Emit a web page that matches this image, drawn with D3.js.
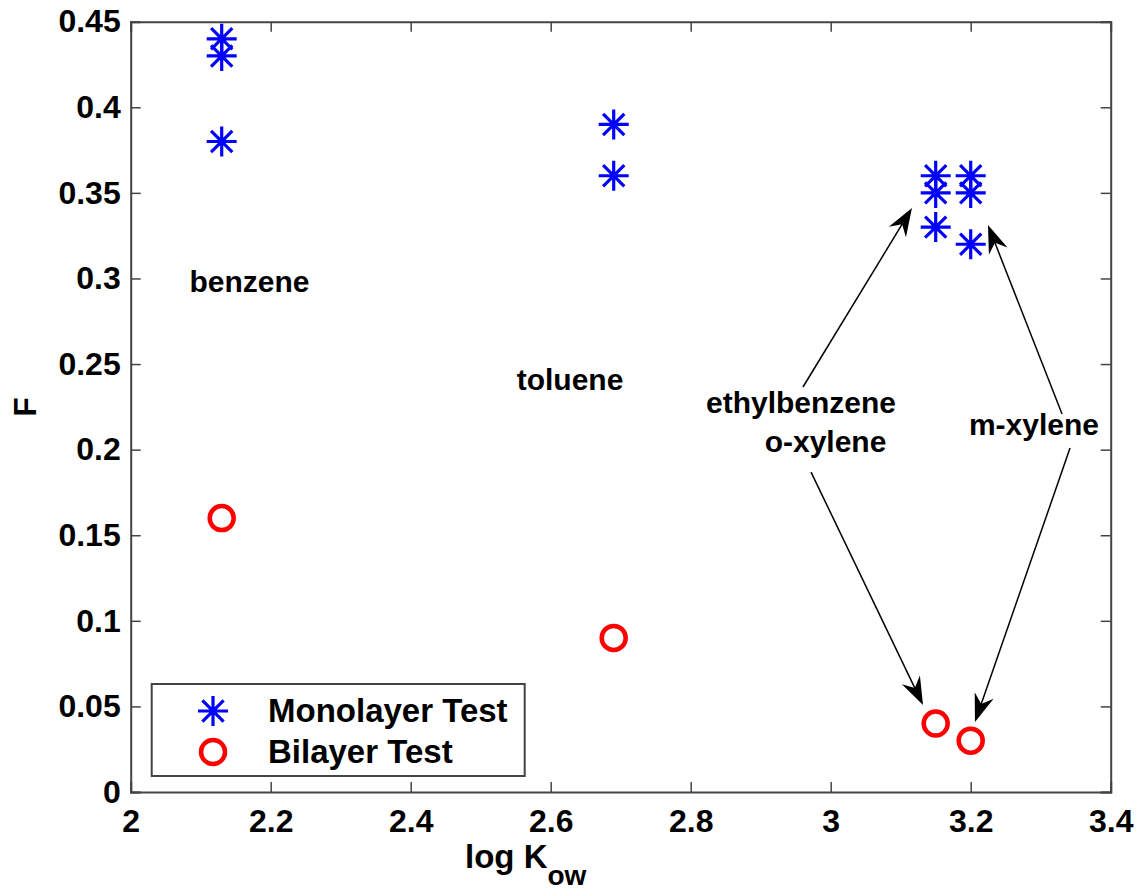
<!DOCTYPE html>
<html>
<head>
<meta charset="utf-8">
<script src="https://cdn.jsdelivr.net/npm/d3@7"></script>
<style>
  body { margin: 0; background: #fff; }
  text { font-family: "Liberation Sans", Arial, sans-serif; font-weight: bold; fill: #000; }
</style>
</head>
<body>
<div class="chart"></div>
<script>
// monolayer test points (log Kow, F)
const monoX = [2.13, 2.13, 2.13, 2.69, 2.69, 3.15, 3.15, 3.15, 3.2, 3.2, 3.2];
const monoF = [0.44, 0.43, 0.38, 0.39, 0.36, 0.36, 0.35, 0.33, 0.36, 0.35, 0.32];
// bilayer test points
const biX = [2.13, 2.69, 3.15, 3.2];
const biF = [0.16, 0.09, 0.04, 0.03];

const xTicks = [2, 2.2, 2.4, 2.6, 2.8, 3, 3.2, 3.4];
const yTicks = [0, 0.05, 0.1, 0.15, 0.2, 0.25, 0.3, 0.35, 0.4, 0.45];

const labelText = ['benzene', 'toluene', 'ethylbenzene', 'o-xylene', 'm-xylene'];
const labelX = [2.1697, 2.6276, 2.9576, 2.9926, 3.2904];
const labelY = [0.292, 0.2348, 0.2214, 0.1986, 0.2085];

// arrows: from (x0,y0) to tip (x1,y1)
const arrowX0 = [2.9604, 2.9719, 3.3305, 3.3419];
const arrowY0 = [0.2366, 0.1869, 0.2208, 0.2009];
const arrowX1 = [3.1161, 3.1319, 3.2247, 3.2061];
const arrowY1 = [0.3411, 0.0508, 0.3312, 0.0409];

const svgWidth = 1146, svgHeight = 894;
const mLeft = 130.7, mRight = 1110.7, mTop = 21.7, mBottom = 792;

const svg = d3.select('.chart').append('svg')
    .attr('width', svgWidth)
    .attr('height', svgHeight)

const x = d3.scaleLinear().domain([2, 3.4]).range([mLeft, mRight]);
const y = d3.scaleLinear().domain([0, 0.45]).range([mBottom, mTop]);

const axisColor = '#444';

// bottom and left axes with labels
const gx = svg.append('g').attr('transform', `translate(0,${mBottom})`)
    .call(d3.axisBottom(x).tickValues(xTicks).tickSize(-10).tickPadding(14).tickFormat(d3.format('')));
const gy = svg.append('g').attr('transform', `translate(${mLeft},0)`)
    .call(d3.axisLeft(y).tickValues(yTicks).tickSize(-10).tickPadding(10).tickFormat(d => d === 0 ? '0' : d3.format('')(+d.toFixed(2))));
// top and right axes, ticks only
const gt = svg.append('g').attr('transform', `translate(0,${mTop})`)
    .call(d3.axisTop(x).tickValues(xTicks).tickSize(-10).tickFormat(''));
const gr = svg.append('g').attr('transform', `translate(${mRight},0)`)
    .call(d3.axisRight(y).tickValues(yTicks).tickSize(-10).tickFormat(''));

[gx, gy, gt, gr].forEach(g => {
    g.select('.domain').attr('stroke', axisColor).attr('stroke-width', 2);
    g.selectAll('.tick line').attr('stroke', axisColor).attr('stroke-width', 1.5);
    g.selectAll('.tick text').attr('font-size', 32).attr('font-family', '"Liberation Sans", Arial, sans-serif').attr('font-weight', 'bold').attr('fill', '#000');
});
gx.selectAll('.tick text').attr('dy', '0.82em');

// axis titles
const xt = svg.append('text')
    .attr('x', 465)
    .attr('y', 868)
    .attr('font-size', 33);
xt.append('tspan').text('log K');
xt.append('tspan').attr('dy', 17).attr('font-size', 28).text('ow');

svg.append('text')
    .attr('transform', 'translate(36,407) rotate(-90)')
    .attr('text-anchor', 'middle')
    .attr('font-size', 32)
    .text('F');

// star marker path
const starPath = r => {
    const d = r * Math.SQRT1_2;
    return `M${-r},0L${r},0M0,${-r}L0,${r}M${-d},${-d}L${d},${d}M${-d},${d}L${d},${-d}`;
};

svg.selectAll('.mono')
    .data(monoX)
    .enter()
    .append('path')
    .attr('class', 'mono')
    .attr('transform', (d, i) => `translate(${x(d)},${y(monoF[i])})`)
    .attr('d', starPath(15))
    .attr('stroke', '#0000ff')
    .attr('stroke-width', 3.2)
    .attr('fill', 'none');

svg.selectAll('.bi')
    .data(biX)
    .enter()
    .append('circle')
    .attr('class', 'bi')
    .attr('cx', d => x(d))
    .attr('cy', (d, i) => y(biF[i]))
    .attr('r', 12)
    .attr('stroke', '#ff0000')
    .attr('stroke-width', 4.5)
    .attr('fill', 'none');

// compound labels
svg.selectAll('.lbl')
    .data(labelText)
    .enter()
    .append('text')
    .attr('class', 'lbl')
    .attr('x', (d, i) => x(labelX[i]))
    .attr('y', (d, i) => y(labelY[i]))
    .attr('text-anchor', 'middle')
    .attr('font-size', 30)
    .text(d => d);

// arrows
arrowX0.forEach((x0, i) => {
    const ax = x(x0), ay = y(arrowY0[i]);
    const bx = x(arrowX1[i]), by = y(arrowY1[i]);
    const ang = Math.atan2(by - ay, bx - ax) * 180 / Math.PI;
    const len = Math.hypot(bx - ax, by - ay);
    svg.append('line')
        .attr('x1', ax).attr('y1', ay)
        .attr('x2', ax + (bx - ax) * (len - 18) / len)
        .attr('y2', ay + (by - ay) * (len - 18) / len)
        .attr('stroke', '#000')
        .attr('stroke-width', 1.5);
    svg.append('path')
        .attr('transform', `translate(${bx},${by}) rotate(${ang})`)
        .attr('d', 'M0,0L-28,-10L-19,0L-28,10Z')
        .attr('fill', '#000');
});

// legend
const legend = svg.append('g');
legend.append('rect')
    .attr('x', 151.7).attr('y', 684)
    .attr('width', 373).attr('height', 92)
    .attr('fill', '#fff')
    .attr('stroke', axisColor)
    .attr('stroke-width', 2);
legend.append('path')
    .attr('transform', 'translate(213,711)')
    .attr('d', starPath(15))
    .attr('stroke', '#0000ff')
    .attr('stroke-width', 3.2)
    .attr('fill', 'none');
legend.append('circle')
    .attr('cx', 213).attr('cy', 752).attr('r', 12)
    .attr('stroke', '#ff0000')
    .attr('stroke-width', 4.5)
    .attr('fill', 'none');
legend.append('text').attr('x', 268).attr('y', 722).attr('font-size', 33).text('Monolayer Test');
legend.append('text').attr('x', 268).attr('y', 763).attr('font-size', 33).text('Bilayer Test');
</script>
</body>
</html>
